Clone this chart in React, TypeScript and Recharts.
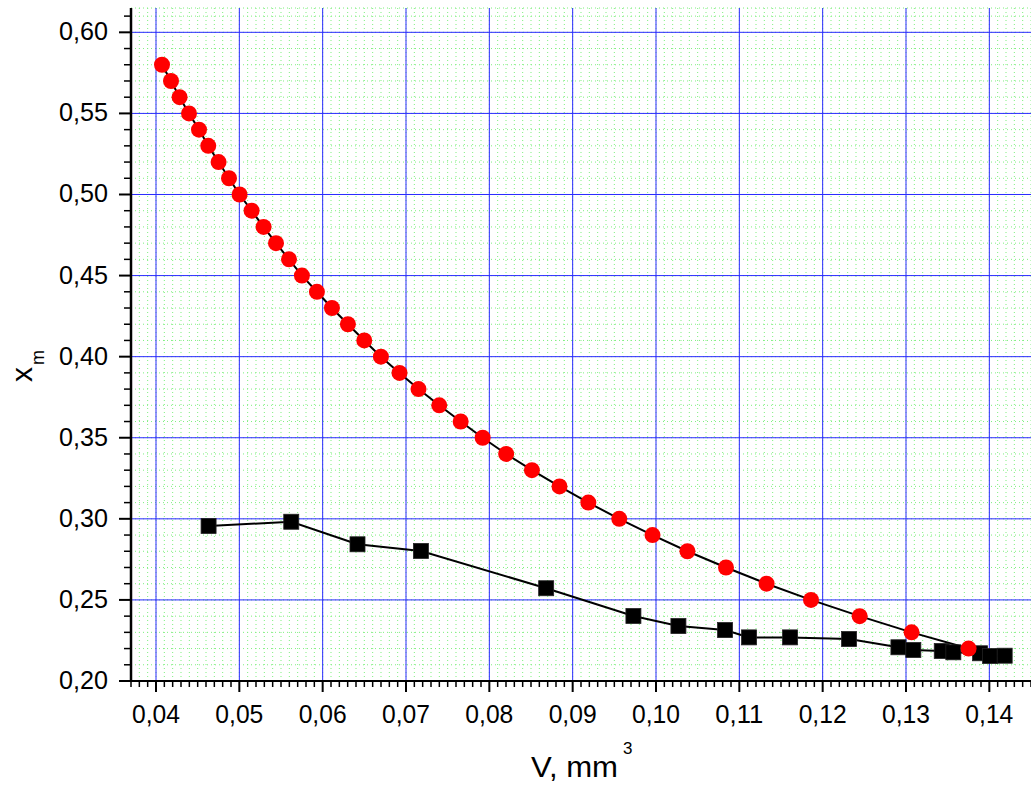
import React from 'react';
import { LineChart, Line, XAxis, YAxis, CartesianGrid, ReferenceLine } from 'recharts';

// Red circles series: V (mm^3) and x_m
const redV = [
  0.04072, 0.0418, 0.04283, 0.04396, 0.04516, 0.04627, 0.04751, 0.04876, 0.05003, 0.05147,
  0.05291, 0.0544, 0.05596, 0.05751, 0.05931, 0.06111, 0.06303, 0.06499, 0.06699, 0.06922,
  0.0715, 0.07399, 0.07656, 0.0792, 0.08202, 0.08511, 0.08842, 0.09188, 0.09559, 0.09958,
  0.10377, 0.1084, 0.11327, 0.1186, 0.12444, 0.13067, 0.13751,
];
const redXm = [
  0.58, 0.57, 0.56, 0.55, 0.54, 0.53, 0.52, 0.51, 0.5, 0.49,
  0.48, 0.47, 0.46, 0.45, 0.44, 0.43, 0.42, 0.41, 0.4, 0.39,
  0.38, 0.37, 0.36, 0.35, 0.34, 0.33, 0.32, 0.31, 0.3, 0.29,
  0.28, 0.27, 0.26, 0.25, 0.24, 0.23, 0.22,
];

// Black squares series
const blackV = [
  0.04631, 0.05623, 0.06418, 0.07179, 0.08682, 0.09729, 0.10269, 0.10829, 0.11117,
  0.11609, 0.12317, 0.12909, 0.13088, 0.13429, 0.13568, 0.13889, 0.14009, 0.14184,
];
const blackXm = [
  0.2956, 0.2982, 0.2843, 0.2802, 0.2572, 0.2401, 0.2339, 0.2314, 0.2269,
  0.2269, 0.2259, 0.2208, 0.2191, 0.2185, 0.2177, 0.2171, 0.2154, 0.2156,
];

const xMajorTicks = [0.04, 0.05, 0.06, 0.07, 0.08, 0.09, 0.1, 0.11, 0.12, 0.13, 0.14];
const yMajorTicks = [0.2, 0.25, 0.3, 0.35, 0.4, 0.45, 0.5, 0.55, 0.6];

const xDomain: [number, number] = [0.037, 0.145];
const yDomain: [number, number] = [0.2, 0.615];

// minor tick positions (axis subdivisions)
const xMinorTicks: number[] = [];
for (let i = 37; i <= 145; i++) xMinorTicks.push(i / 1000);
const yMinorTicks: number[] = [];
for (let i = 20; i <= 61; i++) yMinorTicks.push(i / 100);

const redData = redV.map((v, i) => ({ v, xm: redXm[i] }));
const blackData = blackV.map((v, i) => ({ v, xm: blackXm[i] }));

const FONT = 'Arial, "Liberation Sans", Helvetica, sans-serif';
const fmt = (v: number) => v.toFixed(2).replace('.', ',');
const isMajorX = (v: number) => Math.abs(v * 100 - Math.round(v * 100)) < 1e-6;
const isMajorY = (v: number) => Math.abs(v * 20 - Math.round(v * 20)) < 1e-6;

const XTick = (props: any) => {
  const { x, y, payload } = props;
  const v = payload.value as number;
  const major = isMajorX(v);
  return (
    <g>
      <line x1={x} x2={x} y1={y} y2={y + (major ? 11 : 6)} stroke="#000" strokeWidth={major ? 2 : 1.5} />
      {major && (
        <text
          x={x}
          y={y + 42}
          textAnchor="middle"
          fontSize={26}
          fontFamily={FONT}
          fill="#000"
          textLength={48}
          lengthAdjust="spacingAndGlyphs"
        >
          {fmt(v)}
        </text>
      )}
    </g>
  );
};

const YTick = (props: any) => {
  const { x, y, payload } = props;
  const v = payload.value as number;
  const major = isMajorY(v);
  return (
    <g>
      <line x1={x - (major ? 12 : 7)} x2={x} y1={y} y2={y} stroke="#000" strokeWidth={major ? 2 : 1.5} />
      {major && (
        <text
          x={x - 23}
          y={y + 8}
          textAnchor="end"
          fontSize={26}
          fontFamily={FONT}
          fill="#000"
          textLength={49}
          lengthAdjust="spacingAndGlyphs"
        >
          {fmt(v)}
        </text>
      )}
    </g>
  );
};

const RedDot = (props: any) => {
  const { cx, cy, index } = props;
  if (cx == null || cy == null) return <g key={`r${index}`} />;
  return <circle key={`r${index}`} cx={cx} cy={cy} r={8} fill="#ff0000" />;
};

const SquareDot = (props: any) => {
  const { cx, cy, index } = props;
  if (cx == null || cy == null) return <g key={`s${index}`} />;
  return <rect key={`s${index}`} x={cx - 7.5} y={cy - 7.5} width={15} height={15} fill="#000" stroke="#222" strokeWidth={0.8} />;
};

const XTitle = () => (
  <g>
    <text x={531} y={777} fontSize={30} fontFamily={FONT} fill="#000" textLength={87} lengthAdjust="spacingAndGlyphs">
      V, mm
    </text>
    <text x={623} y={754} fontSize={17} fontFamily={FONT} fill="#000">3</text>
  </g>
);

const YTitle = () => (
  <g>
    <text x={32} y={382} transform="rotate(-90, 32, 382)" fontSize={30} fontFamily={FONT} fill="#000">x</text>
    <text x={44} y={365} transform="rotate(-90, 44, 365)" fontSize={18} fontFamily={FONT} fill="#000">m</text>
  </g>
);

export default function App() {
  return (
    <div style={{ position: 'absolute', left: 0, top: 0, width: 1031, height: 787, background: '#fff' }}>
      <LineChart width={1031} height={787} margin={{ top: 8, right: 0, left: 0, bottom: 0 }}>
        <CartesianGrid stroke="#7fef7f" strokeDasharray="1 3" strokeWidth={1} />
        <XAxis
          type="number"
          dataKey="v"
          domain={xDomain}
          allowDataOverflow
          ticks={xMinorTicks}
          interval={0}
          tick={<XTick />}
          tickLine={false}
          tickSize={0}
          tickMargin={0}
          height={106}
          axisLine={{ stroke: '#000', strokeWidth: 2 }}
          label={{ content: () => <XTitle /> }}
        />
        <YAxis
          type="number"
          dataKey="xm"
          domain={yDomain}
          allowDataOverflow
          ticks={yMinorTicks}
          interval={0}
          tick={<YTick />}
          tickLine={false}
          tickSize={0}
          tickMargin={0}
          width={131}
          axisLine={{ stroke: '#000', strokeWidth: 2.5 }}
          label={{ content: () => <YTitle /> }}
        />
        {xMajorTicks.map((v) => (
          <ReferenceLine key={`vx${v}`} x={v} stroke="#2a2aff" strokeWidth={1} />
        ))}
        {yMajorTicks.map((v) => (
          <ReferenceLine key={`hy${v}`} y={v} stroke="#2a2aff" strokeWidth={1} />
        ))}
        <Line
          data={blackData}
          dataKey="xm"
          type="linear"
          stroke="#000"
          strokeWidth={2}
          dot={SquareDot}
          activeDot={false}
          isAnimationActive={false}
        />
        <Line
          data={redData}
          dataKey="xm"
          type="linear"
          stroke="#000"
          strokeWidth={2}
          dot={RedDot}
          activeDot={false}
          isAnimationActive={false}
        />
      </LineChart>
    </div>
  );
}
